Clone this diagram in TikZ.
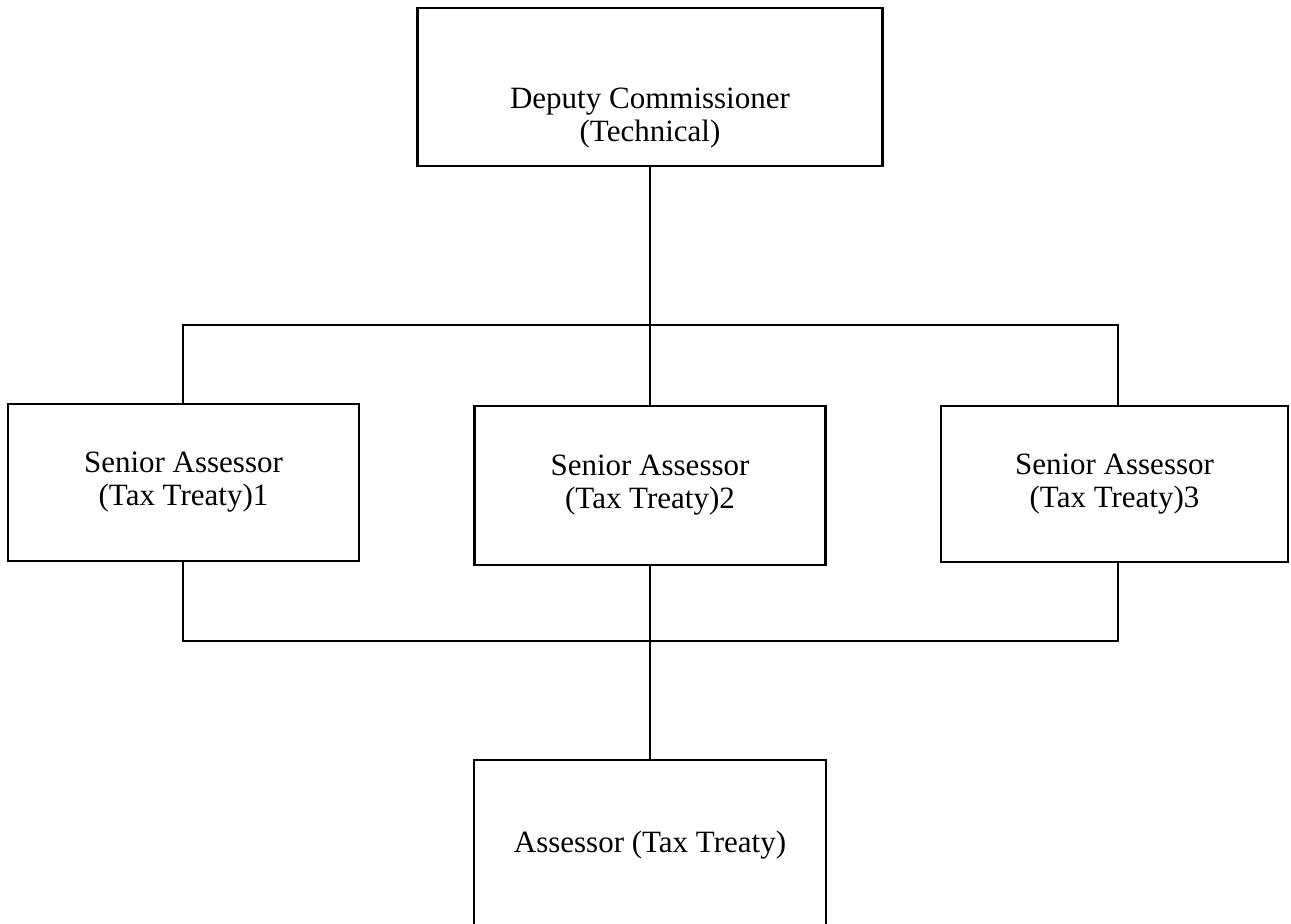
\documentclass[tikz,border=0pt]{standalone}
\usepackage{fontspec}
\setmainfont{Liberation Serif}
\usepackage{tikz}
\usetikzlibrary{positioning}

\begin{document}
\begin{tikzpicture}[
  x=1pt, y=-1pt,
  office/.style={draw=black, line width=2.4pt, fill=white,
                 align=center, inner sep=0pt,
                 font=\fontsize{31}{33}\selectfont},
  wire/.style={draw=black, line width=2pt},
]
  \useasboundingbox (0,0) rectangle (1291,924);

  % Head of the section, its text sits low in the box
  \node[office, minimum width=465pt, minimum height=158pt,
        label={[name=dct, align=center, font=\fontsize{31}{33}\selectfont,
                yshift=-31pt]center:Deputy Commissioner\\(Technical)}]
        (dc)  at ( 650.0,  87.0) {};

  % Three senior assessors in one row
  \node[office, minimum width=351pt, minimum height=157pt] (sa1) at ( 183.5, 482.5) {Senior Assessor\\(Tax Treaty)1};
  \node[office, minimum width=351pt, minimum height=159pt] (sa2) at ( 650.0, 485.5) {Senior Assessor\\(Tax Treaty)2};
  \node[office, minimum width=347pt, minimum height=156pt] (sa3) at (1114.5, 484.0) {Senior Assessor\\(Tax Treaty)3};

  % Assessor at the bottom, cut by the page edge
  \node[office, minimum width=352pt, minimum height=170pt] (asr) at ( 650.0, 845.0) {Assessor (Tax Treaty)};

  % Bars joining the row
  \coordinate (tl) at ( 183, 325);
  \coordinate (tr) at (1118, 325);
  \coordinate (bl) at ( 183, 641);
  \coordinate (br) at (1118, 641);

  \draw[wire] (dc.south) -- (sa2.north);
  \draw[wire] (tl |- sa1.north) -- (tl) -- (tr) -- (tr |- sa3.north);
  \draw[wire] (bl |- sa1.south) -- (bl) -- (br) -- (br |- sa3.south);
  \draw[wire] (sa2.south) -- (asr.north);
\end{tikzpicture}
\end{document}
